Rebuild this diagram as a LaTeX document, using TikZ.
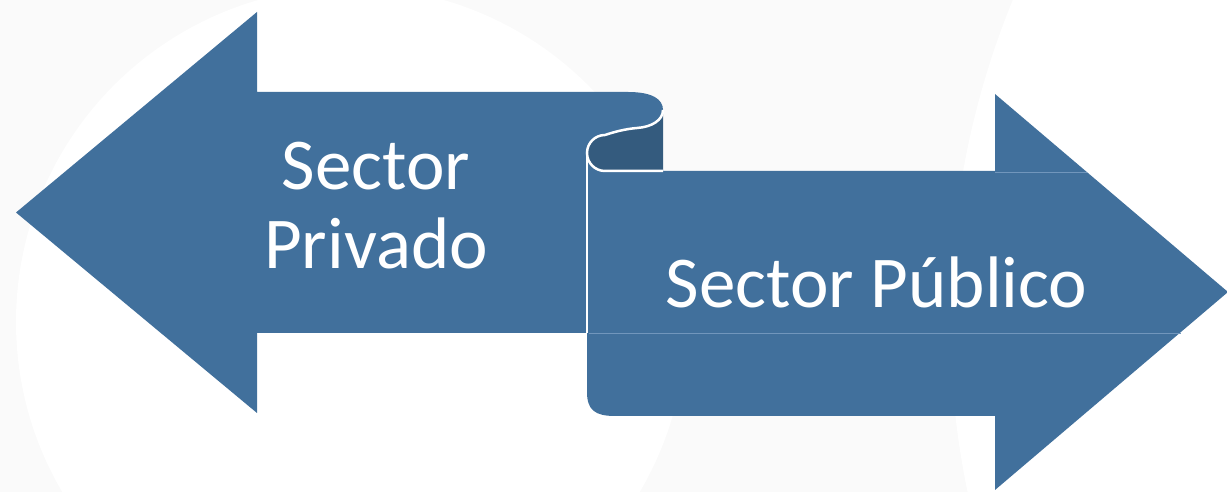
\documentclass[tikz,border=0pt]{standalone}
\usepackage{fontspec}
\setmainfont{Carlito}
\definecolor{arrowblue}{HTML}{41709C}
\definecolor{rolldark}{HTML}{345B7E}
\definecolor{seamblue}{HTML}{7196BC}
\definecolor{bggray}{HTML}{FAFAFA}
\begin{document}
\begin{tikzpicture}[x=1pt,y=1pt,
  arrowfill/.style={fill=arrowblue},
  sectortext/.style={text=white, font=\fontsize{73}{79}\selectfont, inner sep=0pt, align=center},
  rim/.style={draw=white, line width=2.5pt},
  seam/.style={draw=seamblue, line width=0.8pt}]
\useasboundingbox (0,0) rectangle (1227,492);
\begin{scope}
\clip (0,0) rectangle (1227,492);
\fill[bggray] (0,0) rectangle (1227,492);
\fill[white] (351,170) circle[radius=335];
\fill[white] (1794,172) circle[radius=844];
% right arrow (Sector Publico)
\path[arrowfill] (587,339) -- (587,100) .. controls (587,82) and (595,76) .. (615,76)
  -- (995,76) -- (995,2) -- (1228,200) -- (995,398) -- (995,321) -- (605,321)
  arc[start angle=270, end angle=180, radius=18] -- cycle;
% left arrow (Sector Privado)
\path[arrowfill] (16,279.5) -- (257,480) -- (257,400) -- (628,400)
  .. controls (652,400) and (663,393) .. (663,382)
  .. controls (663,372) and (652,365) .. (637,364)
  .. controls (625,363) and (614,360) .. (605,357)
  arc[start angle=90, end angle=180, radius=18] -- (587,159) -- (257,159) -- (257,79) -- cycle;
% inner side of the scroll
\fill[rolldark] (663,382)
  .. controls (663,372) and (652,365) .. (637,364)
  .. controls (625,363) and (614,360) .. (605,357)
  arc[start angle=90, end angle=270, radius=18] -- (663,321) -- cycle;
\draw[rim] (663,382)
  .. controls (663,372) and (652,365) .. (637,364)
  .. controls (625,363) and (614,360) .. (605,357)
  arc[start angle=90, end angle=270, radius=18] -- (663,321);
\draw[rim] (587,339) -- (587,159);
\draw[seam] (995,320) -- (1087,320);
\draw[seam] (589,159) -- (1181,159);
\end{scope}
\node[sectortext, anchor=base] (priv) at (376,223) {Sector\\Privado};
\node[sectortext, anchor=base] (pub) at (876.5,184) {Sector Público};
\end{tikzpicture}
\end{document}
